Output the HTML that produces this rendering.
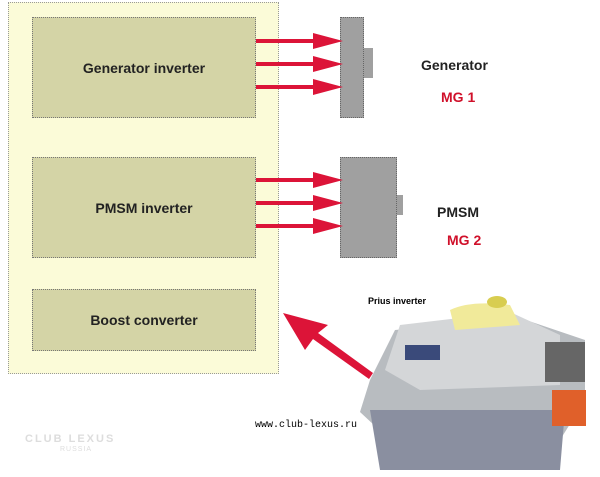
<!DOCTYPE html><html><head><style>
body{margin:0;width:600px;height:477px;background:#fff;position:relative;overflow:hidden;font-family:"Liberation Sans",sans-serif}
.a{position:absolute}
.b{position:absolute;background:#d4d4a6;border:1px dotted #777;box-sizing:border-box;display:flex;align-items:center;justify-content:center;font-weight:bold;font-size:14px;color:#222}
.t{position:absolute;font-weight:bold;font-size:14px}
</style></head><body>
<div class="a" style="left:8px;top:2px;width:271px;height:372px;background:#fbfbd8;border:1px dotted #999;box-sizing:border-box"></div>
<div class="b" style="left:32px;top:17px;width:224px;height:101px">Generator inverter</div>
<div class="b" style="left:32px;top:157px;width:224px;height:101px">PMSM inverter</div>
<div class="b" style="left:32px;top:289px;width:224px;height:62px">Boost converter</div>
<div class="a" style="left:340px;top:17px;width:24px;height:101px;background:#a0a0a0;border:1px dotted #666;box-sizing:border-box"></div>
<div class="a" style="left:364px;top:48px;width:9px;height:30px;background:#a0a0a0"></div>
<div class="a" style="left:340px;top:157px;width:57px;height:101px;background:#a0a0a0;border:1px dotted #666;box-sizing:border-box"></div>
<div class="a" style="left:397px;top:195px;width:6px;height:20px;background:#a0a0a0"></div>
<div class="t" style="left:421px;top:57px;color:#222">Generator</div>
<div class="t" style="left:441px;top:89px;color:#d0102a">MG 1</div>
<div class="t" style="left:437px;top:204px;color:#222">PMSM</div>
<div class="t" style="left:447px;top:232px;color:#d0102a">MG 2</div>
<div class="a" style="left:368px;top:296px;font-size:9px;font-weight:bold">Prius inverter</div>
<div class="a" style="left:255px;top:420px;font-size:10px;font-family:'Liberation Mono',monospace">www.club-lexus.ru</div>
<div class="a" style="left:25px;top:433px;font-size:11px;color:#ddd;letter-spacing:2px;font-weight:bold">CLUB LEXUS</div>
<div class="a" style="left:60px;top:446px;font-size:7px;color:#ddd;letter-spacing:1px">RUSSIA</div>
<svg class="a" style="left:0;top:0" width="600" height="477">
<g fill="#dc1438" stroke="#dc1438">
<g stroke-width="4"><line x1="256" y1="41" x2="320" y2="41"/><line x1="256" y1="64" x2="320" y2="64"/><line x1="256" y1="87" x2="320" y2="87"/>
<line x1="256" y1="180" x2="320" y2="180"/><line x1="256" y1="203" x2="320" y2="203"/><line x1="256" y1="226" x2="320" y2="226"/></g>
<g stroke="none">
<polygon points="313,33 343,41 313,49"/><polygon points="313,56 343,64 313,72"/><polygon points="313,79 343,87 313,95"/>
<polygon points="313,172 343,180 313,188"/><polygon points="313,195 343,203 313,211"/><polygon points="313,218 343,226 313,234"/>
<polygon points="283,313 328,325 318,333 373,373 369,379 313,339 305,350"/></g></g>
<g>
<path d="M395 330 L520 318 L585 340 L585 400 L560 440 L390 440 L360 412 L370 380 Z" fill="#b8bcc0"/>
<path d="M400 325 L510 312 L560 335 L560 385 L420 390 L385 370 Z" fill="#d4d6d8"/>
<path d="M370 410 L565 410 L560 470 L380 470 Z" fill="#8a8fa0"/>
<path d="M450 310 Q470 300 510 305 L520 325 L455 330 Z" fill="#f1ea9a"/>
<ellipse cx="497" cy="302" rx="10" ry="6" fill="#d8cd50"/>
<rect x="552" y="390" width="34" height="36" fill="#e0602a"/>
<rect x="545" y="342" width="40" height="40" fill="#666"/>
<rect x="405" y="345" width="35" height="15" fill="#3a4a7a"/>
</g>
</svg>
</body></html>
